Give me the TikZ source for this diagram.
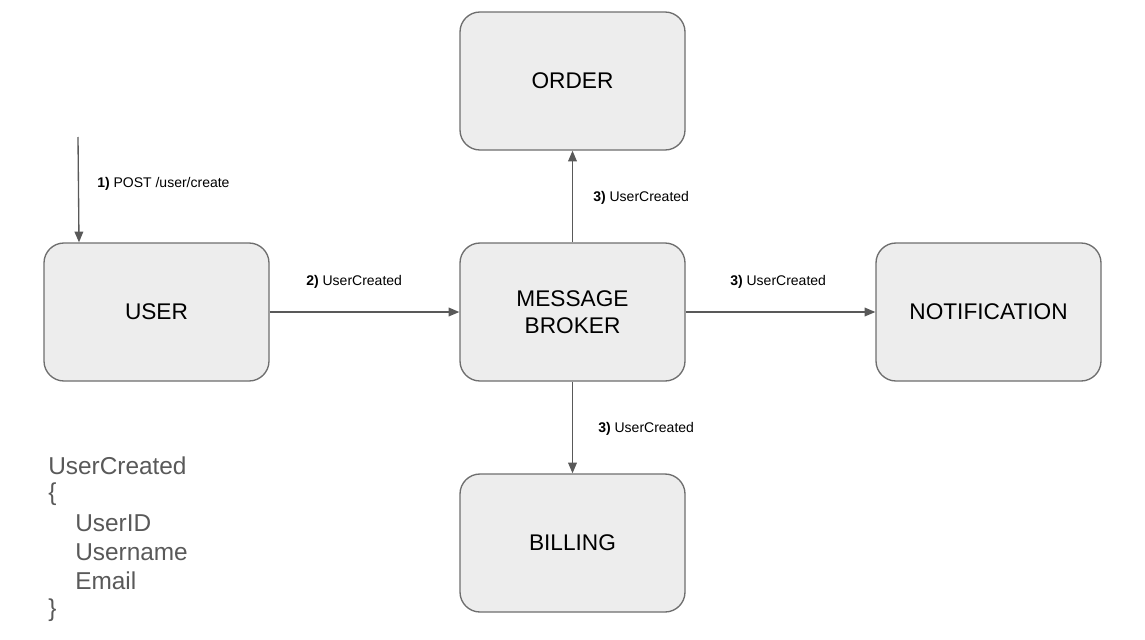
\documentclass[tikz,border=0pt]{standalone}
\usepackage{fontspec}
\setmainfont{Liberation Sans}
\usetikzlibrary{arrows.meta}
\definecolor{boxfill}{HTML}{EDEDED}
\definecolor{boxline}{HTML}{6E6E6E}
\definecolor{arrowc}{HTML}{595959}
\definecolor{notec}{HTML}{595959}
\tikzset{
  svc/.style={draw=boxline, fill=boxfill, line width=1pt, rounded corners=15pt,
    minimum width=168.75pt, minimum height=103.5pt, align=center, inner sep=0pt,
    font=\fontsize{17pt}{20.5pt}\selectfont, text=black},
  conn/.style={draw=arrowc, line width=1pt, -{Triangle[length=8pt,width=6.5pt]}},
  lbl/.style={font=\fontsize{10.5pt}{12pt}\selectfont, text=black, inner sep=0pt, anchor=west},
  note/.style={font=\fontsize{18.3pt}{21.75pt}\selectfont, text=notec, inner sep=0pt, anchor=west}
}
\begin{document}
\begin{tikzpicture}[x=0.75pt,y=-0.75pt]
\useasboundingbox (0,0) rectangle (1145,639);
\node[svc] (user) at (156.5,312) {USER};
\node[svc] (order) at (572.5,81) {ORDER};
\node[svc] (broker) at (572.5,312) {MESSAGE\\BROKER};
\node[svc] (notif) at (988.5,312) {NOTIFICATION};
\node[svc] (bill) at (572.5,543) {BILLING};
\coordinate (start) at (78,137);
\draw[conn] (start) -- (user.north -| 79,0);
\draw[conn] (user.east) -- (broker.west);
\draw[conn] (broker.north) -- (order.south);
\draw[conn] (broker.east) -- (notif.west);
\draw[conn] (broker.south) -- (bill.north);
\node[lbl] (l1) at (97,184) {\textbf{1)} POST /user/create};
\node[lbl] (l2) at (306,282) {\textbf{2)} UserCreated};
\node[lbl] (l3) at (593,198) {\textbf{3)} UserCreated};
\node[lbl] (l4) at (730,282) {\textbf{3)} UserCreated};
\node[lbl] (l5) at (598,429) {\textbf{3)} UserCreated};
\node[note] (n1) at (48,466) {UserCreated};
\node[note] (n2) at (48,494) {\{};
\node[note] (n3) at (75,523) {UserID};
\node[note] (n4) at (75,552) {Username};
\node[note] (n5) at (75,581) {Email};
\node[note] (n6) at (48,610) {\}};
\end{tikzpicture}
\end{document}
